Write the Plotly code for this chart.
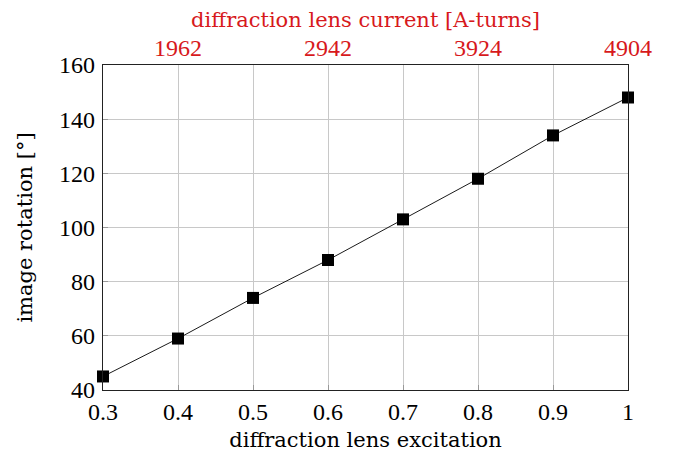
import plotly.graph_objects as go

excitation = [0.3, 0.4, 0.5, 0.6, 0.7, 0.8, 0.9, 1.0]
rotation = [45, 59, 74, 88, 103, 118, 134, 148]
top_tick_pos = [0.4, 0.6, 0.8, 1.0]
top_tick_labels = ["1962", "2942", "3924", "4904"]
x_ticks = [0.3, 0.4, 0.5, 0.6, 0.7, 0.8, 0.9, 1.0]
x_tick_text = ["0.3", "0.4", "0.5", "0.6", "0.7", "0.8", "0.9", "1"]
y_ticks = [40, 60, 80, 100, 120, 140, 160]

TICK_FONT = "Liberation Serif"
TITLE_FONT = "DejaVu Serif"
RED = "#d7191c"

fig = go.Figure()
fig.add_trace(go.Scatter(
    x=excitation, y=rotation, mode="lines+markers",
    line=dict(color="black", width=0.9),
    marker=dict(symbol="square", size=12, color="black"),
    showlegend=False, cliponaxis=False,
))
fig.add_trace(go.Scatter(x=[excitation[0]], y=[rotation[0]], xaxis="x2",
                         mode="markers", marker=dict(opacity=0), showlegend=False,
                         hoverinfo="skip"))

fig.update_layout(
    width=683, height=457,
    margin=dict(l=95, r=63, t=57, b=75),
    plot_bgcolor="white", paper_bgcolor="white",
    font=dict(family=TICK_FONT, size=24, color="black"),
    xaxis=dict(
        range=[0.3, 1.0], tickvals=x_ticks, ticktext=x_tick_text,
        showgrid=True, gridcolor="#c8c8c8", gridwidth=1,
        showline=True, linecolor="#222", linewidth=1.2, mirror=True,
        ticks="inside", ticklen=5, tickcolor="#999",
        zeroline=False, automargin=False,
        tickfont=dict(family=TICK_FONT, size=24),
        title=dict(text="diffraction lens excitation",
                   font=dict(family=TITLE_FONT, size=21), standoff=8),
    ),
    xaxis2=dict(
        range=[0.3, 1.0], overlaying="x", side="top",
        tickvals=top_tick_pos, ticktext=top_tick_labels,
        tickfont=dict(family=TICK_FONT, color=RED, size=24), showgrid=False, zeroline=False,
        ticks="", showline=False, automargin=False, ticklabelstandoff=3,
        title=dict(text="diffraction lens current [A-turns]",
                   font=dict(family=TITLE_FONT, color=RED, size=21), standoff=14),
    ),
    yaxis=dict(
        range=[40, 160], tickvals=y_ticks,
        showgrid=True, gridcolor="#c8c8c8", gridwidth=1,
        showline=True, linecolor="#222", linewidth=1.2, mirror=True,
        ticks="inside", ticklen=5, tickcolor="#999",
        zeroline=False, automargin=False, ticklabelstandoff=2,
        tickfont=dict(family=TICK_FONT, size=24),
        title=dict(text="image rotation [°]",
                   font=dict(family=TITLE_FONT, size=21), standoff=20),
    ),
)

fig.write_html("out.html")
